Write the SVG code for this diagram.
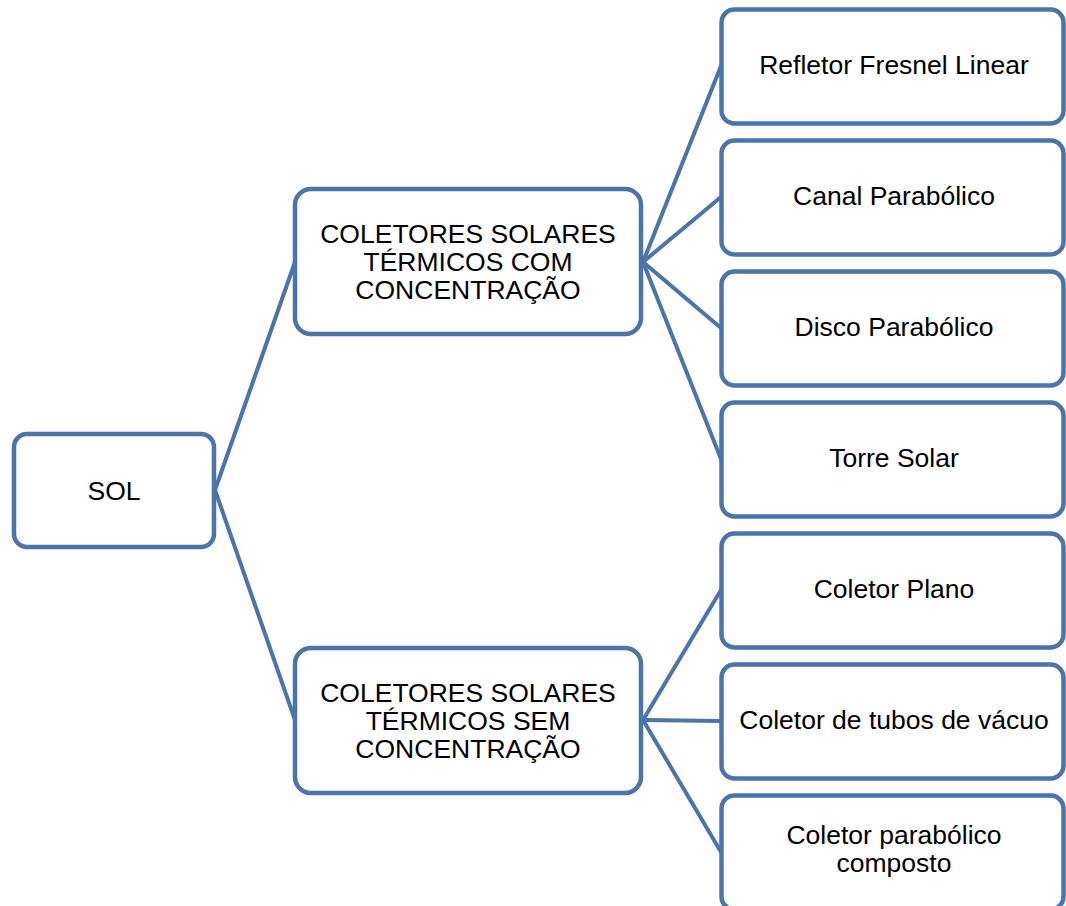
<svg xmlns="http://www.w3.org/2000/svg" width="1066" height="906" viewBox="0 0 1066 906">
<style>
.box{fill:#fff;stroke:#4A74AA;stroke-width:4.5}
.conn line{stroke:#4A74AA;stroke-width:4;stroke-linecap:round}
text{font-family:"Liberation Sans",Arial,sans-serif;font-size:26.5px;fill:#000;text-anchor:middle}
</style>
<rect width="1066" height="906" fill="#fff"/>
<g id="connectors" class="conn">
<line x1="215" y1="490" x2="295" y2="262"/>
<line x1="215" y1="490" x2="295" y2="720"/>
<line x1="643" y1="262" x2="721" y2="66"/>
<line x1="643" y1="262" x2="721" y2="197"/>
<line x1="643" y1="262" x2="721" y2="328"/>
<line x1="643" y1="262" x2="721" y2="459"/>
<line x1="643" y1="720" x2="721" y2="590"/>
<line x1="643" y1="720" x2="721" y2="721"/>
<line x1="643" y1="720" x2="721" y2="852"/>
</g>
<g id="sol"><rect class="box" x="14" y="434" width="200" height="113" rx="13"/><text x="114" y="500">SOL</text></g>
<g id="com"><rect class="box" x="295" y="189" width="346" height="145" rx="16"/><text x="468" y="243">COLETORES SOLARES</text><text x="468" y="271">TÉRMICOS COM</text><text x="468" y="299">CONCENTRAÇÃO</text></g>
<g id="sem"><rect class="box" x="295" y="648" width="346" height="145" rx="16"/><text x="468" y="702">COLETORES SOLARES</text><text x="468" y="730">TÉRMICOS SEM</text><text x="468" y="758">CONCENTRAÇÃO</text></g>
<g id="refletor"><rect class="box" x="721.5" y="9.5" width="342" height="114" rx="13"/><text x="894" y="74">Refletor Fresnel Linear</text></g>
<g id="canal"><rect class="box" x="721.5" y="140.5" width="342" height="114" rx="13"/><text x="894" y="205">Canal Parabólico</text></g>
<g id="disco"><rect class="box" x="721.5" y="271.5" width="342" height="114" rx="13"/><text x="894" y="336">Disco Parabólico</text></g>
<g id="torre"><rect class="box" x="721.5" y="402.5" width="342" height="114" rx="13"/><text x="894" y="467">Torre Solar</text></g>
<g id="plano"><rect class="box" x="721.5" y="533.5" width="342" height="114" rx="13"/><text x="894" y="598">Coletor Plano</text></g>
<g id="tubos"><rect class="box" x="721.5" y="664.5" width="342" height="114" rx="13"/><text x="894" y="729">Coletor de tubos de vácuo</text></g>
<g id="composto"><rect class="box" x="721.5" y="795.5" width="342" height="114" rx="13"/><text x="894" y="844">Coletor parabólico</text><text x="894" y="872">composto</text></g>
</svg>
